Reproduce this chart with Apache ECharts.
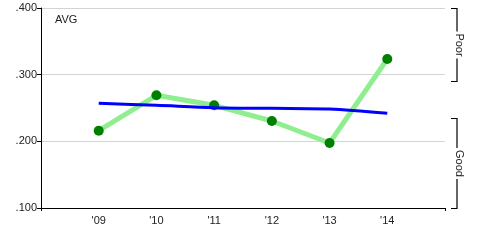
<!DOCTYPE html>
<html><head><meta charset="utf-8">
<script src="https://cdn.jsdelivr.net/npm/echarts@6/dist/echarts.min.js"></script>
<style>html,body{margin:0;padding:0;background:#fff}#c{width:490px;height:245px}</style>
</head><body><div id="c"></div>
<script>
var years = [2009, 2010, 2011, 2012, 2013, 2014];
var yearLabels = ["'09", "'10", "'11", "'12", "'13", "'14"];
var avgValues = [0.216, 0.269, 0.254, 0.2305, 0.1975, 0.3235];
var trendValues = [0.257, 0.254, 0.2505, 0.2495, 0.2485, 0.242];
var yTicks = [0.1, 0.2, 0.3, 0.4];
var bands = [{name: 'Poor', from: 0.4, to: 0.29}, {name: 'Good', from: 0.235, to: 0.1}];

var FONT = 'Liberation Sans, Arial, sans-serif';
var chart = echarts.init(document.getElementById('c'), null, {renderer: 'canvas'});
function pairs(vals){ return years.map(function(y,i){ return [y, vals[i]]; }); }
var option = {
  animation: false,
  grid: {left: 41, right: 45, top: 8, bottom: 37, containLabel: false},
  xAxis: {
    type: 'value', min: 2008, max: 2015, interval: 1,
    axisLine: {show: true, lineStyle: {color: '#000', width: 1}},
    axisTick: {show: true, length: 3, inside: false, customValues: [2008, 2015], lineStyle: {color: '#000'}},
    splitLine: {show: false},
    axisLabel: {
      color: '#222', fontFamily: FONT, fontSize: 11, margin: 7,
      formatter: function(v){ var i = years.indexOf(v); return i >= 0 ? yearLabels[i] : ''; }
    }
  },
  yAxis: {
    type: 'value', min: 0.1, max: 0.4, interval: 0.1,
    axisLine: {show: true, lineStyle: {color: '#000', width: 1}},
    axisTick: {show: true, length: 4, lineStyle: {color: '#000'}},
    splitLine: {show: true, lineStyle: {color: '#d3d3d3', width: 1}},
    axisLabel: {
      color: '#222', fontFamily: FONT, fontSize: 11, margin: 4,
      formatter: function(v){ return v.toFixed(3).replace(/^0/, ''); }
    }
  },
  series: [
    {
      type: 'line', data: pairs(avgValues), symbol: 'circle', symbolSize: 10,
      lineStyle: {color: '#90ee90', width: 5},
      itemStyle: {color: '#008000'}, z: 2
    },
    {
      type: 'line', data: pairs(trendValues), symbol: 'none', smooth: 0.3,
      lineStyle: {color: '#0000ff', width: 3}, z: 3
    }
  ],
  graphic: []
};
chart.setOption(option);

var ctx = document.createElement('canvas').getContext('2d');
ctx.font = '11px ' + FONT;
var g = [{type: 'text', left: 55, top: 14, style: {text: 'AVG', fill: '#222', font: '11px ' + FONT}}];
var bx = 457;
bands.forEach(function(b){
  var y0 = Math.round(chart.convertToPixel({gridIndex: 0}, [2015, b.from])[1]) + 0.5;
  var y1 = Math.round(chart.convertToPixel({gridIndex: 0}, [2015, b.to])[1]) + 0.5;
  var mid = (y0 + y1) / 2;
  var half = ctx.measureText(b.name).width / 2 + 2;
  var ls = {stroke: '#000', lineWidth: 1.2};
  g.push({type: 'polyline', shape: {points: [[451, y0], [bx, y0], [bx, mid - half]]}, style: ls});
  g.push({type: 'polyline', shape: {points: [[bx, mid + half], [bx, y1], [451, y1]]}, style: ls});
  g.push({type: 'text', x: bx + 2.5, y: mid, rotation: -Math.PI / 2, originX: 0, originY: 0,
    style: {text: b.name, fill: '#222', font: '11px ' + FONT, align: 'center', verticalAlign: 'middle'}});
});
chart.setOption({graphic: g});
</script></body></html>
